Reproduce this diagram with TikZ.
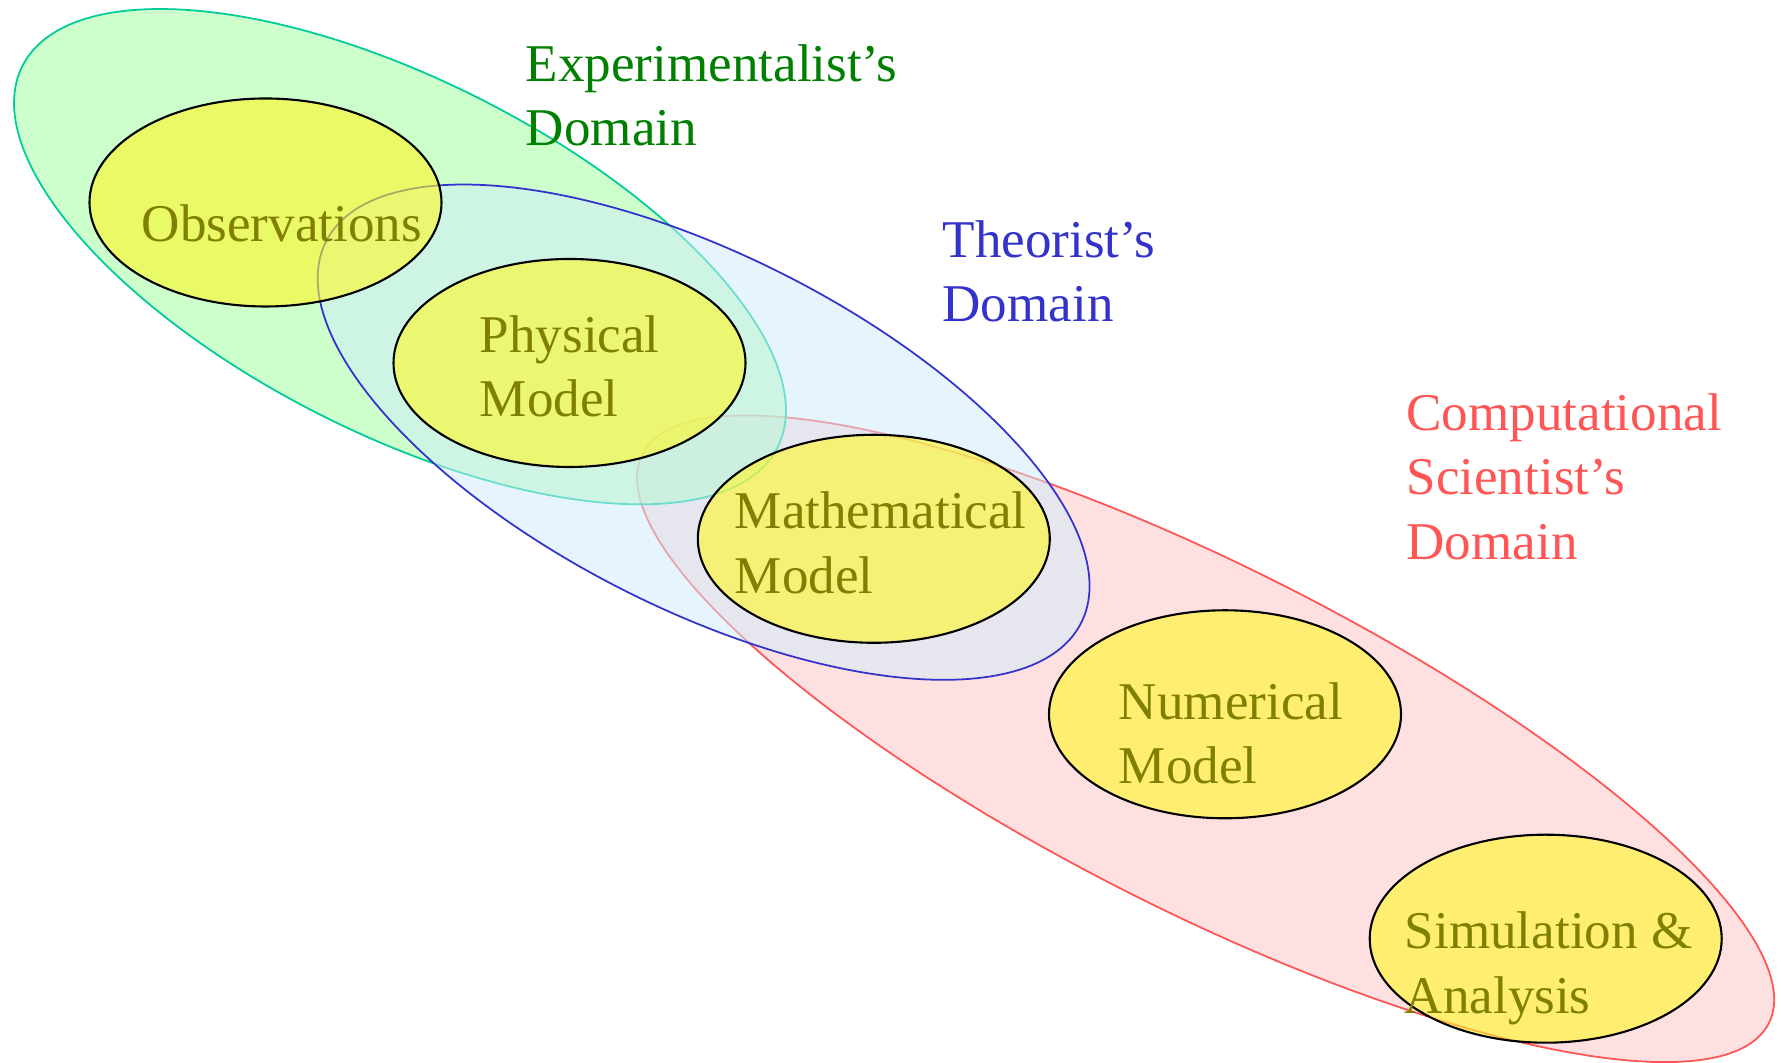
\documentclass[tikz,border=0pt]{standalone}
\usepackage{fontspec}
\setmainfont{Liberation Serif}
\usetikzlibrary{shapes.geometric}

\definecolor{expline}{HTML}{00CC99}
\definecolor{expfill}{HTML}{AAFFAA}
\definecolor{theoline}{HTML}{3333CC}
\definecolor{theofill}{HTML}{D0ECFC}
\definecolor{compline}{HTML}{FF5555}
\definecolor{compfill}{HTML}{FF6666}
\definecolor{stagefill}{HTML}{FFF725}
\definecolor{stagetext}{HTML}{808000}
\definecolor{explabel}{HTML}{008000}

\tikzset{
  stage/.style={ellipse, draw=black, line width=0.6pt, fill=stagefill,
    fill opacity=0.6, minimum width=3.52cm, minimum height=2.08cm, inner sep=0pt},
  label/.style={anchor=base west, align=left, inner sep=0pt,
    font=\fontsize{15.1}{18.35}\selectfont},
}

\begin{document}
\begin{tikzpicture}[line width=0.5pt]
    \useasboundingbox (0,0) rectangle (17.81,10.63);
    % Domains
    \draw[compline, fill=compfill, fill opacity=0.2, rotate around={-26.8:(12.056,3.242)}]
        (12.056,3.242) ellipse [x radius=6.31, y radius=1.72];
    \draw[expline, fill=expfill, fill opacity=0.6, rotate around={-26.8:(4.00,8.063)}]
        (4.00,8.063) ellipse [x radius=4.23, y radius=1.77];
    \draw[theoline, fill=theofill, fill opacity=0.52, rotate around={-26.8:(7.036,6.308)}]
        (7.036,6.308) ellipse [x radius=4.23, y radius=1.77];
    % Stages
    \node[stage] (obs) at (2.655,8.605) {};
    \node[stage] (phys) at (5.695,7.00) {};
    \node[stage] (math) at (8.738,5.242) {};
    \node[stage] (num) at (12.25,3.487) {};
    \node[stage] (sim) at (15.457,1.243) {};
    % Stage names (base = last line)
    \node[label, text=stagetext] (obs-t) at (1.41,8.21) {Observations};
    \node[label, text=stagetext] (phys-t) at (4.79,6.46) {Physical\\Model};
    \node[label, text=stagetext] (math-t) at (7.34,4.696) {Mathematical\\Model};
    \node[label, text=stagetext] (num-t) at (11.18,2.79) {Numerical\\Model};
    \node[label, text=stagetext] (sim-t) at (14.04,0.497) {Simulation \&\\Analysis};
    % Domain names
    \node[label, text=explabel] (exp-t) at (5.25,9.173) {Experimentalist's\\Domain};
    \node[label, text=theoline] (theo-t) at (9.417,7.413) {Theorist's\\Domain};
    \node[label, text=compline] (comp-t) at (14.057,5.036) {Computational\\Scientist's\\Domain};
\end{tikzpicture}
\end{document}
